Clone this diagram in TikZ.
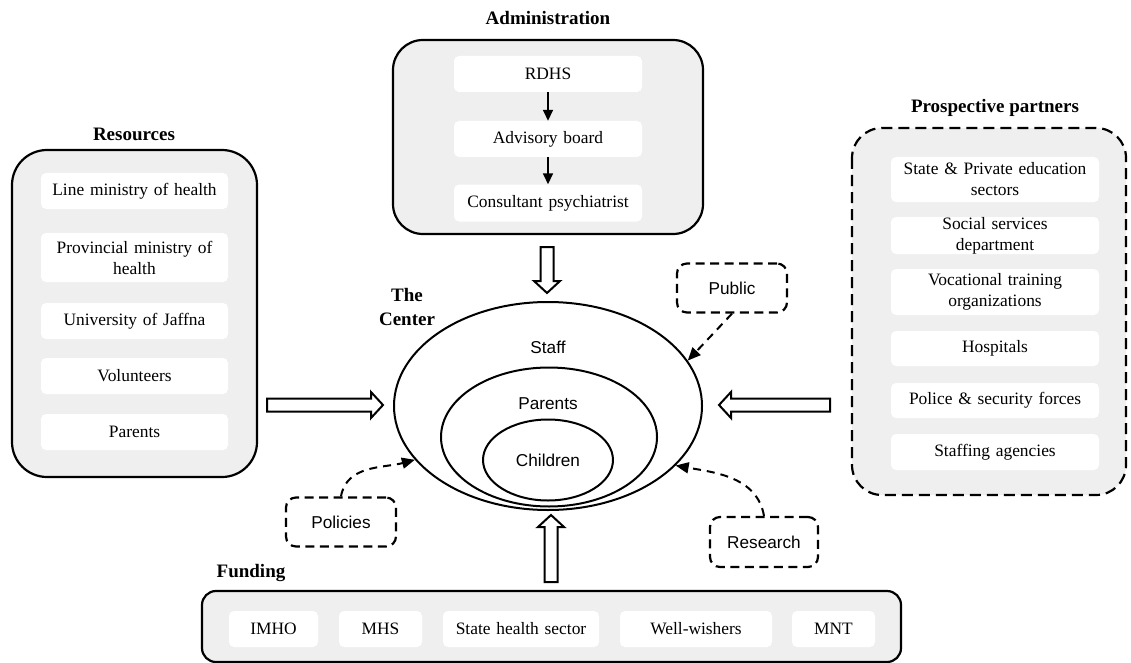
\documentclass[tikz,border=0pt]{standalone}
\usepackage{fontspec}
\setmainfont{Liberation Serif}
\setsansfont{Liberation Sans}
\usetikzlibrary{arrows.meta,shapes.geometric}

\definecolor{panelgray}{HTML}{EFEFEF}

% hollow block arrow: tail, angle, length
\newcommand{\fatarrow}[3]{%
  \draw[fatline, shift={#1}, rotate=#2] (0,-6.5) -- ({#3-12},-6.5) -- ({#3-12},-13) -- (#3,0)
    -- ({#3-12},13) -- ({#3-12},6.5) -- (0,6.5) -- cycle;
}

\begin{document}
\begin{tikzpicture}[x=1pt, y=-1pt]
    \useasboundingbox (0,0) rectangle (1131,663);

    % --- DEFINE STYLES ---
    % Style for the grey panels
    \tikzstyle{panel} = [draw, fill=panelgray, line width=2.2pt]
    % Style for the white entries inside a panel
    \tikzstyle{entry} = [fill=white, rounded corners=5pt, inner sep=0pt, align=center, font=\fontsize{17.4}{21}\selectfont]
    % Style for the panel titles
    \tikzstyle{paneltitle} = [font=\bfseries\fontsize{19}{24}\selectfont, align=center]
    % Style for the dashed boxes round the center
    \tikzstyle{sidebox} = [draw, dash pattern=on 9pt off 5.5pt, line width=2.2pt, rounded corners=10pt, minimum width=110pt, minimum height=49pt, font=\sffamily\fontsize{17.2}{20}\selectfont]
    % Style for the rings of the center
    \tikzstyle{ring} = [ellipse, draw, line width=2pt, inner sep=0pt]
    \tikzstyle{ringlabel} = [font=\sffamily\fontsize{17.2}{20}\selectfont]
    % Style for connectors
    \tikzstyle{fatline} = [draw, line width=2pt, fill=white, line join=miter]
    \tikzstyle{flow} = [line width=1.6pt, -{Triangle[length=11pt, width=10pt]}]
    \tikzstyle{influence} = [line width=2pt, dash pattern=on 8pt off 6pt, -{Triangle[length=13pt, width=11pt]}]

    % --- ADMINISTRATION ---
    \node[paneltitle] (admTitle) at (548,18) {Administration};
    \draw[panel, rounded corners=30pt] (393,40) rectangle (703,234);
    \node[entry, text width=188pt, minimum height=36pt] (rdhs) at (548,74) {RDHS};
    \node[entry, text width=188pt, minimum height=36pt] (board) at (548,139) {Advisory board};
    \node[entry, text width=188pt, minimum height=37pt] (psych) at (548,203) {Consultant psychiatrist};
    \draw[flow] (rdhs) -- (board);
    \draw[flow] (board) -- (psych);

    % --- RESOURCES ---
    \node[paneltitle] (resTitle) at (134,134) {Resources};
    \draw[panel, rounded corners=35pt] (12,150) rectangle (257,477);
    \foreach \nm/\yy/\hh/\txt in {res1/191/36/{Line ministry of health},
                                  res2/257.5/49/{Provincial ministry of\\health},
                                  res3/321/36/{University of Jaffna},
                                  res4/376/36/{Volunteers},
                                  res5/432/36/{Parents}} {
        \node[entry, text width=187pt, minimum height=\hh] (\nm) at (134.5,\yy) {\txt};
    }

    % --- PROSPECTIVE PARTNERS ---
    \node[paneltitle] (partTitle) at (995,108) {Prospective partners};
    \draw[panel, dash pattern=on 11pt off 6pt, rounded corners=30pt] (852,128) rectangle (1126,495);
    \foreach \nm/\yy/\hh/\txt in {part1/179.5/45/{State \& Private education\\sectors},
                                  part2/235.5/37/{Social services\\department},
                                  part3/292/46/{Vocational training\\organizations},
                                  part4/348.5/35/{Hospitals},
                                  part5/400.5/35/{Police \& security forces},
                                  part6/452/36/{Staffing agencies}} {
        \node[entry, text width=208pt, minimum height=\hh] (\nm) at (995,\yy) {\txt};
    }

    % --- THE CENTER ---
    \node[paneltitle] (cenTitle) at (407,307) {The\\Center};
    \node[ring, minimum width=308pt, minimum height=208pt] (staffRing) at (548,406) {};
    \node[ring, minimum width=216pt, minimum height=139pt] (parentRing) at (549,437) {};
    \node[ring, minimum width=130pt, minimum height=81pt] (childRing) at (548,460) {};
    \node[ringlabel] (staffLbl) at (548,347) {Staff};
    \node[ringlabel] (parentLbl) at (548,404) {Parents};
    \node[ringlabel] (childLbl) at (548,460) {Children};

    % dashed influences
    \node[sidebox] (public) at (732,288) {Public};
    \node[sidebox] (policies) at (341,522) {Policies};
    \node[sidebox, minimum width=108pt, minimum height=50pt] (research) at (764,542) {Research};
    \draw[influence] (public.south) -- (staffRing.18);
    \draw[influence] (policies.north) to[out=80, in=195] (staffRing.202);
    \draw[influence] (research.north) to[out=100, in=-10] (staffRing.-25);

    % block arrows into the center
    \fatarrow{(547,247)}{-90}{46}
    \fatarrow{(551,582)}{90}{67}
    \fatarrow{(267,405)}{0}{116}
    \fatarrow{(830,405)}{180}{111}

    % --- FUNDING ---
    \node[paneltitle] (fundTitle) at (251,573) {Funding};
    \draw[panel, rounded corners=14pt] (202,591) rectangle (901,662);
    \foreach \nm/\xx/\ww/\txt in {fund1/273.5/89/{IMHO},
                                  fund2/380.5/83/{MHS},
                                  fund3/521/156/{State health sector},
                                  fund4/696/152/{Well-wishers},
                                  fund5/833.5/83/{MNT}} {
        \node[entry, text width=\ww, minimum height=36pt] (\nm) at (\xx,629) {\txt};
    }
\end{tikzpicture}
\end{document}
